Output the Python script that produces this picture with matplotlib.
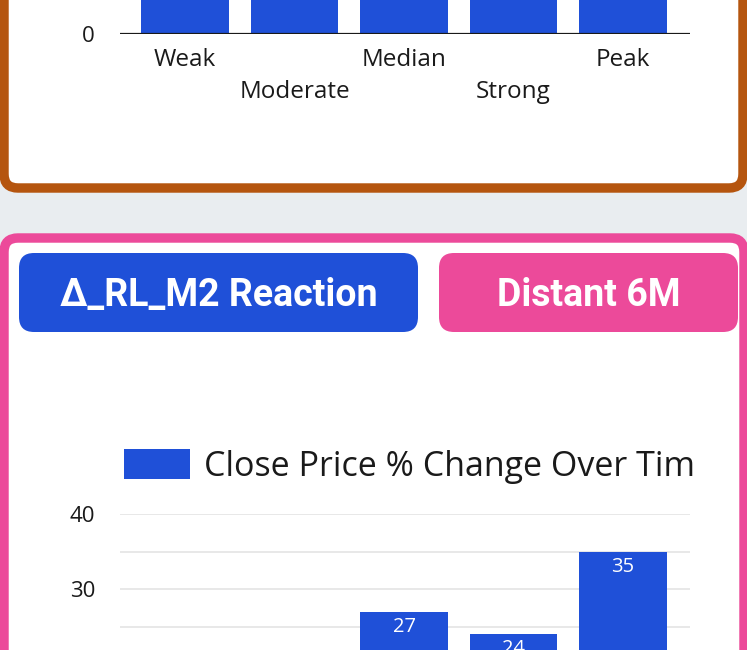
import matplotlib
matplotlib.use("Agg")
import matplotlib.pyplot as plt
from matplotlib.patches import FancyBboxPatch
from matplotlib.ticker import MultipleLocator, NullFormatter

W, H = 747, 650          # canvas in pixels
DPI = 100

# ── data ──────────────────────────────────────────────────────────────────────
categories = ["Weak", "Moderate", "Median", "Strong", "Peak"]
# upper chart: only the foot of each bar is inside the crop
upper_values = [18, 22, 25, 28, 33]
# lower chart: Weak / Moderate end below the crop (< ~21)
close_change = [12, 18, 27, 24, 35]
legend_label = "Close Price % Change Over Tim"
left_badge = "Δ_RL_M2 Reaction"
right_badge = "Distant 6M"

BLUE = "#1F50D8"
PINK = "#EC4A9A"
ORANGE = "#B5550F"
BG = "#E9EDF0"
GRID = "#E4E4E4"
TXT = "#1A1A1A"
FONT = "Open Sans"


def fx(x):
    return x / W


def fy(y):
    return 1 - y / H


fig = plt.figure(figsize=(W / DPI, H / DPI), dpi=DPI, facecolor=BG)

# ── page background: cards and badges, drawn in pixel coords ─────────────────
bg = fig.add_axes([0, 0, 1, 1], zorder=0)
bg.set_xlim(0, W)
bg.set_ylim(H, 0)
bg.axis("off")


def card(x0, y0, x1, y1, r, **kw):
    bg.add_patch(FancyBboxPatch((x0, y0), x1 - x0, y1 - y0,
                                boxstyle=f"round,pad=0,rounding_size={r}", **kw))


# shadow under upper card, then the cards themselves
card(4, -60, 743, 192, 14, facecolor="#00000014", edgecolor="none")
card(4, -60, 743, 188, 14, facecolor="white", edgecolor=ORANGE, linewidth=6.8)
card(4, 238, 744, 720, 14, facecolor="white", edgecolor=PINK, linewidth=6.8)

# badges
card(19, 253, 418, 332, 15, facecolor=BLUE, edgecolor="none")
card(439, 253, 738, 332, 15, facecolor=PINK, edgecolor="none")
bg.text(218.5, 295, left_badge, ha="center", va="center", color="white",
        fontsize=27, fontweight="bold", family=["Roboto", "DejaVu Sans"])
bg.text(589, 295, right_badge, ha="center", va="center", color="white",
        fontsize=27, fontweight="bold", family=["Roboto", "DejaVu Sans"])

# ── charts: same x layout, 7.5 px per unit on y ──────────────────────────────
x = list(range(len(categories)))
XLIM = (-0.594, 4.612)       # plot spans 120..690 px
PX_PER_UNIT = 7.5


def style(ax, ylim):
    ax.set_xlim(*XLIM)
    ax.set_ylim(*ylim)
    ax.set_facecolor("none")
    for s in ax.spines.values():
        s.set_visible(False)
    ax.set_xticks([])
    ax.tick_params(axis="y", which="both", length=0, pad=18,
                   labelsize=16, labelcolor=TXT)
    ax.set_axisbelow(True)


# upper chart: zero line at y=34 px, top of the crop at y=0
ax1 = fig.add_axes([fx(120), fy(34), fx(690) - fx(120), 34 / H], zorder=1)
style(ax1, (0, 34 / PX_PER_UNIT))
ax1.set_yticks([0])
for t in ax1.get_yticklabels():
    t.set_family(FONT)
ax1.bar(x, upper_values, width=0.8, color=BLUE)
ax1.axhline(0, color=TXT, lw=1.6)
for i, lab in enumerate(categories):
    dy = -26 if i % 2 == 0 else -58
    ax1.annotate(lab, xy=(i, 0), xytext=(0, dy), textcoords="offset pixels",
                 ha="center", va="center", fontsize=17.5, color=TXT,
                 family=FONT, annotation_clip=False)

# lower chart: 40 at y=514 px, cut by the crop at y=650
lo = 40 - (H - 514) / PX_PER_UNIT
ax2 = fig.add_axes([fx(120), 0, fx(690) - fx(120), (H - 514) / H], zorder=1)
style(ax2, (lo, 40))
ax2.yaxis.set_major_locator(MultipleLocator(10))
ax2.yaxis.set_minor_locator(MultipleLocator(5))
ax2.yaxis.set_minor_formatter(NullFormatter())
for t in ax2.get_yticklabels():
    t.set_family(FONT)
ax2.grid(axis="y", which="both", color=GRID, lw=1.2)
ax2.bar(x, close_change, width=0.8, color=BLUE, label=legend_label)
for i, v in enumerate(close_change):
    ax2.annotate(f"{v}", xy=(i, v), xytext=(0, -15), textcoords="offset pixels",
                 ha="center", va="center", fontsize=14.5, color="white",
                 family=FONT)

leg = ax2.legend(loc="center left", bbox_to_anchor=(fx(124), fy(466.5)),
                 bbox_transform=fig.transFigure, frameon=False,
                 prop={"family": FONT, "size": 24.5},
                 handlelength=1.93, handleheight=0.98, handletextpad=0.42,
                 borderpad=0, borderaxespad=0)
for t in leg.get_texts():
    t.set_color(TXT)

fig.savefig("out.png", dpi=DPI, facecolor=BG)
